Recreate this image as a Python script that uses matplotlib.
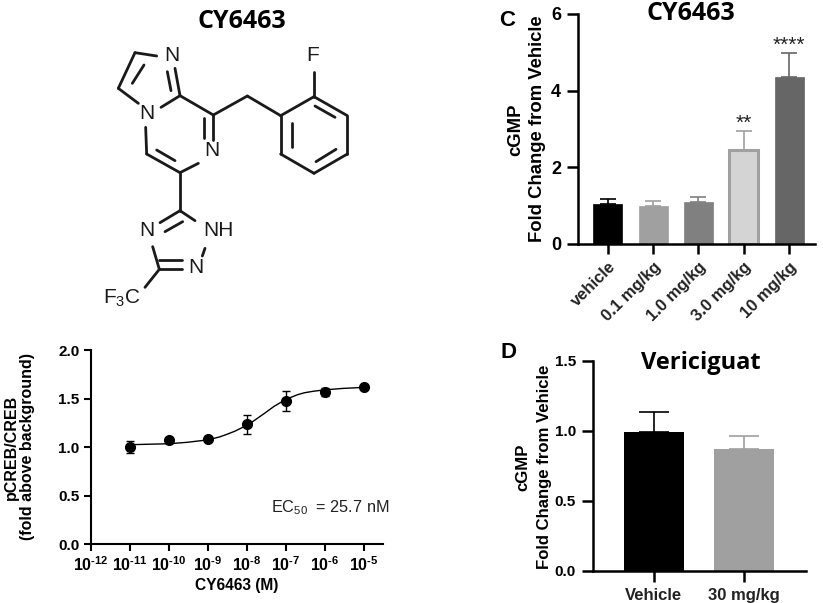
import matplotlib
matplotlib.use("Agg")
import matplotlib.pyplot as plt

plt.rcParams['font.family'] = ['Liberation Sans', 'DejaVu Sans']
plt.rcParams['mathtext.fontset'] = 'custom'
plt.rcParams['mathtext.bf'] = 'Liberation Sans:bold'
plt.rcParams['mathtext.rm'] = 'Liberation Sans'
plt.rcParams['mathtext.it'] = 'Liberation Sans:italic'
plt.rcParams['mathtext.default'] = 'regular'

# ---- data ----
dose_conc = [1e-11, 1e-10, 1e-9, 1e-8, 1e-7, 1e-6, 1e-5]
dose_resp = [1.00, 1.07, 1.08, 1.235, 1.475, 1.565, 1.615]
dose_err = [0.06, 0.0, 0.0, 0.10, 0.105, 0.04, 0.0]
curve_conc = [1e-11, 3e-11, 1e-10, 3e-10, 1e-9, 2e-9, 3e-9, 5e-9, 1e-8, 1.5e-8, 2e-8, 3e-8,
              5e-8, 7e-8, 1e-7, 1.5e-7, 2e-7, 3e-7, 5e-7, 1e-6, 3e-6, 1e-5]
curve_resp = [1.025, 1.03, 1.035, 1.05, 1.075, 1.105, 1.13, 1.165, 1.225, 1.27, 1.305, 1.355,
              1.42, 1.455, 1.49, 1.52, 1.54, 1.56, 1.575, 1.59, 1.605, 1.615]
dose_ticks = [1e-12, 1e-11, 1e-10, 1e-9, 1e-8, 1e-7, 1e-6, 1e-5]
dose_ticklabels = ['10$^{\\mathbf{\u2010%d}}$' % n for n in (12, 11, 10, 9, 8, 7, 6, 5)]
dose_yticks = [0.0, 0.5, 1.0, 1.5, 2.0]

c_labels = ['vehicle', '0.1 mg/kg', '1.0 mg/kg', '3.0 mg/kg', '10 mg/kg']
c_values = [1.05, 1.00, 1.10, 2.45, 4.35]
c_errors = [0.13, 0.13, 0.13, 0.51, 0.63]
c_fill = ['#000000', '#a0a0a0', '#808080', '#d4d4d4', '#666666']
c_edge = ['#000000', '#a0a0a0', '#808080', '#a0a0a0', '#666666']
c_stars = ['', '', '', '**', '****']

d_labels = ['Vehicle', '30 mg/kg']
d_values = [0.995, 0.87]
d_errors = [0.14, 0.09]
d_fill = ['#000000', '#a0a0a0']

W, H = 823, 603
fig = plt.figure(figsize=(W / 100, H / 100), dpi=100, facecolor='white')


def axes_px(left, right, top, bottom):
    return fig.add_axes([left / W, 1 - bottom / H, (right - left) / W, (bottom - top) / H])


def style(ax, lw=1.5):
    ax.spines['top'].set_visible(False)
    ax.spines['right'].set_visible(False)
    ax.spines['left'].set_linewidth(lw)
    ax.spines['bottom'].set_linewidth(lw)
    ax.patch.set_alpha(0)


def ftext(x, y, s, **kw):
    kw.setdefault('ha', 'center')
    kw.setdefault('va', 'center')
    fig.text(x / W, 1 - y / H, s, **kw)


# ---- chemical structure (overlay in zoomed reference pixels / 3) ----
ov = fig.add_axes([0, 0, 1, 1], zorder=0)
ov.set_xlim(0, W)
ov.set_ylim(H, 0)
ov.axis('off')
bonds = [
    ((405, 158), (470, 168)), ((405, 158), (355, 265)), ((432, 195), (397, 250)),
    ((355, 265), (415, 310)), ((483, 322), (540, 287)),
    ((540, 287), (525, 205)), ((513, 272), (502, 215)),
    ((540, 287), (640, 345)), ((640, 345), (640, 420)), ((612, 355), (612, 415)),
    ((595, 490), (540, 518)), ((540, 518), (440, 462)), ((525, 482), (470, 450)),
    ((440, 462), (437, 382)),
    ((640, 345), (742, 288)), ((742, 288), (842, 347)),
    ((842, 347), (942, 290)), ((942, 290), (1042, 347)), ((1042, 347), (1042, 462)),
    ((1042, 462), (942, 520)), ((942, 520), (842, 462)), ((842, 462), (842, 347)),
    ((945, 318), (1005, 352)), ((1008, 448), (948, 485)), ((875, 368), (875, 440)),
    ((942, 290), (942, 215)),
    ((540, 518), (540, 632)),
    ((540, 632), (480, 668)), ((548, 665), (495, 695)), ((540, 632), (585, 662)),
    ((615, 745), (607, 768)),
    ((458, 740), (478, 808)), ((478, 780), (545, 780)), ((478, 808), (545, 808)),
    ((478, 808), (435, 862)),
]
for (x0, y0), (x1, y1) in bonds:
    ov.plot([x0 / 3, x1 / 3], [y0 / 3, y1 / 3], color='#1a1a1a', lw=2.0, solid_capstyle='round')
atoms = [('N', 516, 166), ('N', 440, 340), ('N', 636, 453), ('F', 938, 167),
         ('N', 440, 692), ('NH', 655, 692), ('N', 587, 803)]
for s, x, y in atoms:
    ov.text(x / 3, y / 3, s, ha='center', va='center', fontsize=15, color='#1a1a1a')
ov.text(365 / 3, 895 / 3, 'F$_3$C', ha='center', va='center', fontsize=15, color='#1a1a1a')
ftext(242, 21, 'CY6463', fontsize=18, fontweight='bold', family='Open Sans')

# ---- dose response ----
ax = axes_px(90.7, 383, 350, 544.3)
style(ax)
ax.set_xscale('log')
ax.set_xlim(1e-12, 10 ** -4.51)
ax.set_ylim(0, 2)
ax.plot(curve_conc, curve_resp, color='black', lw=1.0)
ax.errorbar(dose_conc, dose_resp, yerr=dose_err, fmt='o', color='black', ms=7,
            elinewidth=1.0, capsize=3, capthick=1.0)
ax.set_xticks(dose_ticks)
ax.set_xticklabels(dose_ticklabels, fontsize=11.5, fontweight='bold')
ax.minorticks_off()
ax.set_yticks(dose_yticks)
ax.set_yticklabels(['%.1f' % v for v in dose_yticks], fontsize=11, fontweight='bold')
ax.tick_params(axis='both', width=1.5, length=5, pad=3)
ax.set_xlabel('CY6463 (M)', fontsize=11.2, fontweight='bold', labelpad=3)
ftext(330, 508, 'EC$_{50}$  = 25.7 nM', fontsize=11.7, color='#222222')
ftext(11, 447, 'pCREB/CREB', rotation=90, fontsize=11.5, fontweight='bold')
ftext(28, 447, '(fold above background)', rotation=90, fontsize=11.5, fontweight='bold')

# ---- panel C ----
ax = axes_px(577.7, 815, 14, 244)
style(ax, 1.8)
ax.set_xlim(-0.66, 4.566)
ax.set_ylim(0, 6)
for i, (v, e, f, ec) in enumerate(zip(c_values, c_errors, c_fill, c_edge)):
    ax.bar(i, v, width=0.64, color=f, edgecolor=ec, linewidth=2.2 if f != ec else 0.5, zorder=2)
    ax.errorbar(i, v, yerr=[[0], [e]], color=ec, elinewidth=1.2, capsize=5.5, capthick=1.2, zorder=1)
    if c_stars[i]:
        ax.text(i, v + e + 0.2, c_stars[i], ha='center', va='center',
                fontsize=15, color='#222222', clip_on=False)
ax.set_xticks(range(len(c_labels)))
ax.set_xticklabels(c_labels, rotation=45, ha='right', rotation_mode='anchor', fontsize=12,
                   fontweight='bold', color='#222222')
ax.set_yticks([0, 2, 4, 6])
ax.set_yticklabels(['0', '2', '4', '6'], fontsize=13, fontweight='bold')
ax.tick_params(axis='both', width=1.8, length=8, pad=4)
ax.tick_params(axis='x', length=7)
ftext(691, 13, 'CY6463', fontsize=18, fontweight='bold', family='Open Sans')
ftext(507, 20, 'C', fontsize=16, fontweight='bold')
ftext(516, 130, 'cGMP', rotation=90, fontsize=13.3, fontweight='bold')
ftext(537, 129, 'Fold Change from Vehicle', rotation=90, fontsize=13.3, fontweight='bold')

# ---- panel D ----
ax = axes_px(592.7, 806, 360.7, 571)
style(ax, 1.8)
ax.set_xlim(-0.673, 1.681)
ax.set_ylim(0, 1.5)
for i, (v, e, f) in enumerate(zip(d_values, d_errors, d_fill)):
    ax.bar(i, v, width=0.665, color=f, zorder=2)
    ax.errorbar(i, v, yerr=[[0], [e]], color=f, elinewidth=1.2, capsize=11, capthick=1.2, zorder=1)
ax.set_xticks(range(len(d_labels)))
ax.set_xticklabels(d_labels, fontsize=12, fontweight='bold', color='#222222')
ax.set_yticks([0.0, 0.5, 1.0, 1.5])
ax.set_yticklabels(['0.0', '0.5', '1.0', '1.5'], fontsize=11, fontweight='bold')
ax.tick_params(axis='both', width=1.8, length=8, pad=4)
ftext(701, 363, 'Vericiguat', fontsize=17, fontweight='bold', family='Open Sans')
ftext(509, 352, 'D', fontsize=16, fontweight='bold')
ftext(523, 467, 'cGMP', rotation=90, fontsize=12.1, fontweight='bold')
ftext(544, 467, 'Fold Change from Vehicle', rotation=90, fontsize=12.1, fontweight='bold')

fig.savefig('out.png', dpi=100)
